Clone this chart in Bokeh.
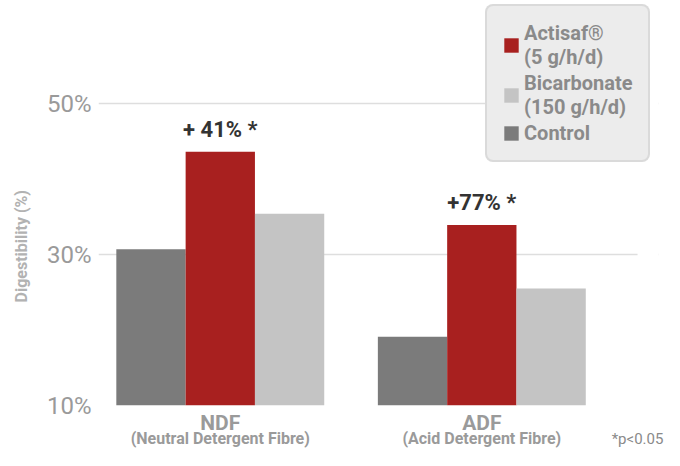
from bokeh.plotting import figure
from bokeh.models import (Range1d, FixedTicker, LinearAxis, Legend, LegendItem, Title,
                          ColumnDataSource, PrintfTickFormatter, BoxAnnotation)
from bokeh.transform import dodge
from bokeh.core.properties import value
from bokeh.embed import file_html
from bokeh.resources import INLINE

# ---- data ----
groups = ["NDF", "ADF"]
group_notes = ["(Neutral Detergent Fibre)", "(Acid Detergent Fibre)"]
series_labels = ["Actisaf®\n(5 g/h/d)", "Bicarbonate\n(150 g/h/d)", "Control"]
control = [30.7, 19.1]
actisaf = [43.6, 33.9]
bicarbonate = [35.4, 25.5]
uplift = ["+ 41% *", "+77% *"]
y_ticks = [10, 30, 50]
y_title = "Digestibility (%)"
footnote = "*p<0.05"

FONT = "Roboto"
C_CONTROL = "#7b7b7b"
C_ACTISAF = "#a8201f"
C_BICARB = "#c4c4c4"
TXT = "#9a9a9a"

xi = list(range(len(groups)))
src = ColumnDataSource(dict(xi=xi, control=control, actisaf=actisaf,
                            bicarbonate=bicarbonate, uplift=uplift))

W, H = 664, 450
LEFT, RIGHT_B, BOTTOM_B = 97, 6, 45
frame_h = H - BOTTOM_B
k = (frame_h - 103) / 40.0          # px per percent
Y0 = 10
Y1 = Y0 + frame_h / k
u = 262.0                            # px per group
x_start = -(219 - LEFT) / u
x_end = x_start + (W - LEFT - RIGHT_B) / u
grid_end = (637 - 219) / u

p = figure(width=W, height=H, output_backend="svg", toolbar_location=None,
           x_range=Range1d(x_start, x_end), y_range=Range1d(Y0, Y1),
           min_border_left=LEFT, min_border_right=RIGHT_B, min_border_top=0,
           min_border_bottom=BOTTOM_B, outline_line_color=None)
p.background_fill_color = "white"
p.border_fill_color = "white"

bw = 0.265
r_c = p.vbar(x=dodge("xi", -bw, range=p.x_range), top="control", bottom=Y0, width=bw,
             source=src, fill_color=C_CONTROL, line_color=None)
r_a = p.vbar(x=dodge("xi", 0, range=p.x_range), top="actisaf", bottom=Y0, width=bw,
             source=src, fill_color=C_ACTISAF, line_color=None)
r_b = p.vbar(x=dodge("xi", bw, range=p.x_range), top="bicarbonate", bottom=Y0, width=bw,
             source=src, fill_color=C_BICARB, line_color=None)

p.text(x="xi", y="actisaf", text="uplift", source=src, y_offset=-10,
       text_align="center", text_baseline="bottom", text_font=value(FONT),
       text_font_size="22px", text_font_style="bold", text_color="#333333")

# grid
p.xgrid.visible = False
p.ygrid.ticker = FixedTicker(ticks=y_ticks)
p.ygrid.grid_line_color = "#dedede"
p.ygrid.grid_line_width = 1.5

# hide grid beyond its end (under the legend area)
p.add_layout(BoxAnnotation(left=grid_end, fill_color="white", fill_alpha=1,
                           line_color=None))

# y axis
ya = p.yaxis[0]
ya.ticker = FixedTicker(ticks=y_ticks)
ya.formatter = PrintfTickFormatter(format="%d%%")
ya.axis_line_color = None
ya.major_tick_line_color = None
ya.minor_tick_line_color = None
ya.major_tick_out = 0
ya.major_tick_in = 0
ya.major_label_standoff = 7
ya.major_label_text_font = FONT
ya.major_label_text_font_size = "24px"
ya.major_label_text_color = TXT

# y title, placed in the left panel
p.add_layout(Title(text=y_title, align="left", vertical_align="top",
                   offset=frame_h - 302, standoff=22, text_font=FONT,
                   text_font_size="16px", text_font_style="bold",
                   text_color="#b2b2b2"), "left")

# x axis (categories)
xa = p.xaxis[0]
xa.ticker = FixedTicker(ticks=xi)
xa.major_label_overrides = {i: g for i, g in zip(xi, groups)}
xa.axis_line_color = None
xa.major_tick_line_color = None
xa.minor_tick_line_color = None
xa.major_tick_out = 0
xa.major_tick_in = 0
xa.major_label_standoff = 5
xa.major_label_text_font = FONT
xa.major_label_text_font_size = "21px"
xa.major_label_text_font_style = "bold"
xa.major_label_text_color = TXT

def bare_axis(ticks, labels, size, style, standoff, color):
    ax = LinearAxis(ticker=FixedTicker(ticks=ticks),
                    major_label_overrides={t: s for t, s in zip(ticks, labels)})
    ax.axis_line_color = None
    ax.major_tick_line_color = None
    ax.minor_tick_line_color = None
    ax.major_tick_out = 0
    ax.major_tick_in = 0
    ax.major_label_standoff = standoff
    ax.major_label_text_font = FONT
    ax.major_label_text_font_size = size
    ax.major_label_text_font_style = style
    ax.major_label_text_color = color
    return ax

p.add_layout(bare_axis(xi, group_notes, "16px", "bold", -9, TXT), "below")
p.add_layout(bare_axis([grid_end], [footnote], "15px", "normal", -21, "#8a8a8a"), "below")

legend = Legend(items=[LegendItem(label=series_labels[0], renderers=[r_a]),
                       LegendItem(label=series_labels[1], renderers=[r_b]),
                       LegendItem(label=series_labels[2], renderers=[r_c])],
                location=(484 - LEFT, frame_h - 162))
legend.padding = 15
legend.spacing = 2
legend.margin = 0
legend.glyph_width = 18
legend.glyph_height = 18
legend.label_standoff = 4
legend.label_text_font = FONT
legend.label_text_font_size = "20px"
legend.label_text_font_style = "bold"
legend.label_text_color = "#8a8a8a"
legend.label_text_line_height = 0.9
legend.background_fill_color = "#ececec"
legend.background_fill_alpha = 1
legend.border_line_color = "#c8c8c8"
legend.border_line_width = 2
if "border_radius" in Legend.properties():
    legend.border_radius = 8
p.add_layout(legend)

open("out.html", "w").write(file_html(p, INLINE))
